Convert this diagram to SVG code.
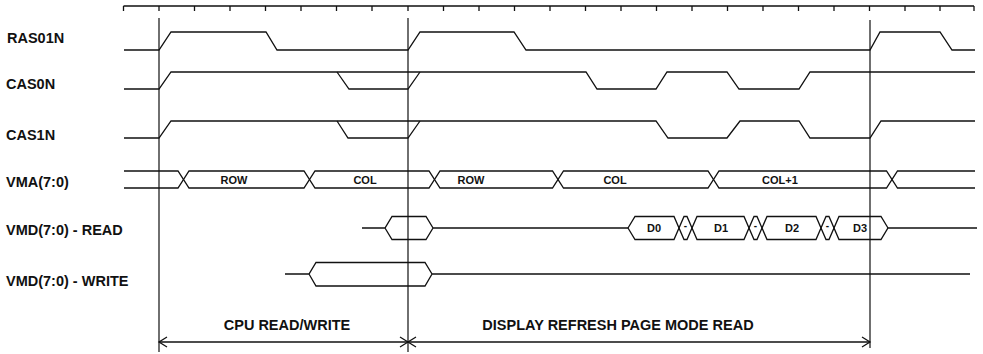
<svg xmlns="http://www.w3.org/2000/svg" width="983" height="354" viewBox="0 0 983 354">
<defs>
<style>
.s{fill:none;stroke:#111;stroke-width:1.3;stroke-linejoin:miter}
.v{fill:none;stroke:#111;stroke-width:1.2}
.lbl{font-family:"Liberation Sans",Arial,sans-serif;font-weight:bold;font-size:14.5px;fill:#111}
.bus{font-family:"Liberation Sans",Arial,sans-serif;font-weight:bold;font-size:11px;fill:#111;text-anchor:middle}
.dash{font-family:"Liberation Sans",Arial,sans-serif;font-weight:bold;font-size:10px;fill:#111;text-anchor:middle}
.cap{font-family:"Liberation Sans",Arial,sans-serif;font-weight:bold;font-size:14.5px;fill:#111;text-anchor:middle}
</style>
<marker id="arr" viewBox="-10 -7 12 14" markerWidth="12" markerHeight="14" refX="0" refY="0" markerUnits="userSpaceOnUse" orient="auto-start-reverse">
<path d="M-8,-5 L0,0 L-8,5" fill="none" stroke="#111" stroke-width="1.3"/>
</marker>
</defs>
<rect width="983" height="354" fill="#fff"/>
<g id="timescale">
<path class="s" d="M123.5,6 H974 M123.5,6 V11 M159,6 V11 M194.5,6 V11 M230,6 V11 M265.5,6 V11 M301,6 V11 M336.5,6 V11 M372,6 V11 M408,6 V11 M443.5,6 V11 M479,6 V11 M514.5,6 V11 M550,6 V11 M585.5,6 V11 M621,6 V11 M656.5,6 V11 M692,6 V11 M727.5,6 V11 M763,6 V11 M798.5,6 V11 M834,6 V11 M869.5,6 V11 M905,6 V11 M940,6 V11 M974,6 V11"/>
</g>
<g id="labels">
<text class="lbl" x="7" y="43">RAS01N</text>
<text class="lbl" x="6" y="89">CAS0N</text>
<text class="lbl" x="6" y="140">CAS1N</text>
<text class="lbl" x="6" y="187">VMA(7:0)</text>
<text class="lbl" x="6" y="235">VMD(7:0) - READ</text>
<text class="lbl" x="6" y="286">VMD(7:0) - WRITE</text>
</g>
<g id="RAS01N">
<path class="s" d="M124,50 H159 L171,32 H266 L277,50 H408 L420,32 H514 L526,50 H870 L880,32 H940 L952,50 H975"/>
</g>
<g id="CAS0N">
<path class="s" d="M124,89 H159 L171,72 H586 L597,89 H656 L667,72 H727 L739,89 H799 L810,72 H975"/>
<path class="s" d="M337,72 L349,89 H408 L420,72"/>
</g>
<g id="CAS1N">
<path class="s" d="M124,138 H159 L171,121 H656 L668,138 H727 L740,121 H799 L810,138 H870 L881,121 H975"/>
<path class="s" d="M337,121 L348,138 H408 L420,121"/>
</g>
<g id="VMA">
<path class="s" d="M124,171 H178 L189,188 H304 L315,171 H429 L440,188 H552.5 L563.5,171 H708 L719,188 H886.5 L897.5,171 H975"/>
<path class="s" d="M124,188 H178 L189,171 H304 L315,188 H429 L440,171 H552.5 L563.5,188 H708 L719,171 H886.5 L897.5,188 H975"/>
<text class="bus" x="234" y="184">ROW</text>
<text class="bus" x="365" y="184">COL</text>
<text class="bus" x="471" y="184">ROW</text>
<text class="bus" x="615" y="184">COL</text>
<text class="bus" x="780" y="184">COL+1</text>
</g>
<g id="VMD_READ">
<path class="s" d="M362,228 H385 L392,216.5 H426 L433,228 L426,239.5 H392 L385,228 M433,228 H628"/>
<path class="s" d="M628,228 L635,216.5 H674 L684,239.5 H687 L697,216.5 H744 L754,239.5 H757 L767,216.5 H816 L826,239.5 H829 L839,216.5 H881 L888,228"/>
<path class="s" d="M628,228 L635,239.5 H674 L684,216.5 H687 L697,239.5 H744 L754,216.5 H757 L767,239.5 H816 L826,216.5 H829 L839,239.5 H881 L888,228 H977"/>
<text class="bus" x="654" y="232">D0</text>
<text class="bus" x="721" y="232">D1</text>
<text class="bus" x="792" y="232">D2</text>
<text class="bus" x="860" y="232">D3</text>
<text class="dash" x="685.5" y="229">-</text>
<text class="dash" x="755.5" y="229">-</text>
<text class="dash" x="827.5" y="229">-</text>
</g>
<g id="VMD_WRITE">
<path class="s" d="M285,274 H309 L316,262.5 H425 L432,274 L425,286 H316 L309,274 M432,274 H970"/>
</g>
<g id="connectors">
<path class="v" d="M159,18 V352 M408,18 V352 M870,20 V348"/>
<path class="s" d="M159,342 H408" marker-start="url(#arr)" marker-end="url(#arr)"/>
<path class="s" d="M408,342 H870" marker-start="url(#arr)" marker-end="url(#arr)"/>
</g>
<g id="phase-labels">
<text class="cap" x="287" y="330">CPU READ/WRITE</text>
<text class="cap" x="618" y="330">DISPLAY REFRESH PAGE MODE READ</text>
</g>
</svg>
